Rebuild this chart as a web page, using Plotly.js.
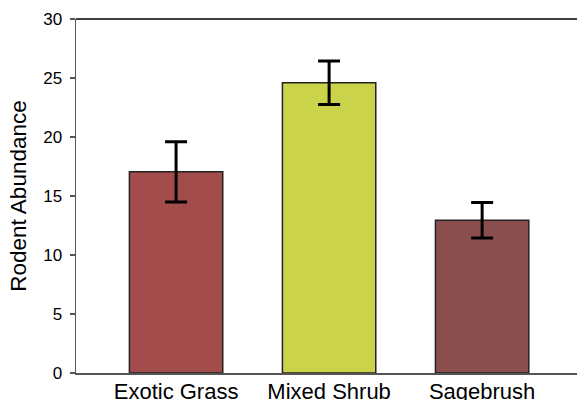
<!DOCTYPE html>
<html>
<head>
<meta charset="utf-8">
<script src="https://cdn.plot.ly/plotly-3.0.1.min.js"></script>
<style>html,body{margin:0;padding:0;background:#fff;}#chart{width:577px;height:400px;}</style>
</head>
<body>
<div id="chart"></div>
<script>
const categories = ["Exotic Grass", "Mixed Shrub", "Sagebrush"];
const abundance = [17.05, 24.6, 12.95];
const stdError = [2.55, 1.85, 1.5];
const barColors = ["#A24C4C", "#CBD34B", "#8A4E4F"];
const yTicks = [0, 5, 10, 15, 20, 25, 30];

const trace = {
  type: "bar",
  x: categories,
  y: abundance,
  marker: { color: barColors, line: { color: "#222", width: 1.5 } },
  error_y: { type: "data", array: stdError, visible: true, color: "#000", thickness: 3, width: 11 },
  hoverinfo: "none"
};

const layout = {
  width: 577, height: 400,
  margin: { l: 76, r: 0, t: 19, b: 27 },
  paper_bgcolor: "#fff", plot_bgcolor: "#fff",
  showlegend: false,
  bargap: 0.39,
  font: { family: "Liberation Sans, Arial, sans-serif", color: "#000" },
  xaxis: {
    range: [-0.654, 2.62],
    showline: true, linecolor: "#555", linewidth: 1.5,
    ticks: "", showgrid: false, zeroline: false,
    tickfont: { size: 22, color: "#000" },
    ticklabelstandoff: -2
  },
  yaxis: {
    range: [0, 30], tickvals: yTicks, ticktext: yTicks.map(String),
    showline: true, linecolor: "#555", linewidth: 1.5,
    ticks: "outside", ticklen: 5, tickwidth: 1.5, tickcolor: "#555",
    showgrid: false, zeroline: false,
    tickfont: { size: 17, color: "#000" },
    ticklabelstandoff: 4,
    title: { text: "Rodent Abundance", font: { size: 22.5, color: "#000" }, standoff: 10 }
  },
  shapes: [{ type: "line", xref: "paper", yref: "paper", x0: 0, x1: 1, y0: 1, y1: 1, line: { color: "#000", width: 1.5 } }]
};

Plotly.newPlot("chart", [trace], layout, { staticPlot: true, displayModeBar: false });
</script>
</body>
</html>
